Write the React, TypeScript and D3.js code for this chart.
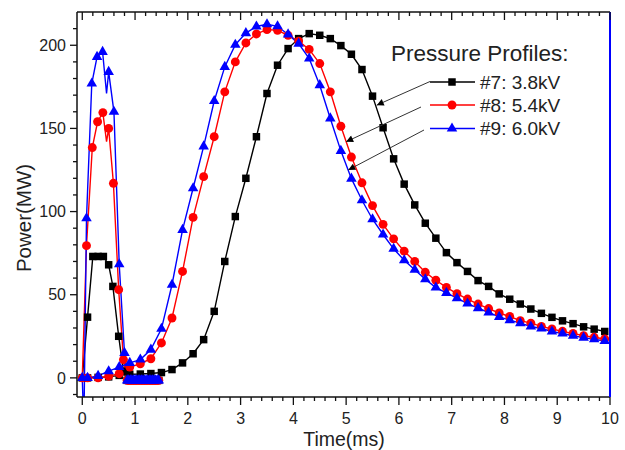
import React from "react";
import * as d3 from "d3";

const W = 625;
const H = 450;

const xTicks = [0, 1, 2, 3, 4, 5, 6, 7, 8, 9, 10];
const yTicks = [0, 50, 100, 150, 200];

const seriesNames = ["#7: 3.8kV", "#8: 5.4kV", "#9: 6.0kV"];
const seriesColors = ["#000000", "#ff0000", "#0000ff"];
const legendTitle = "Pressure Profiles:";

// main profile sample times (ms)
const mainX = [
  0.1, 0.3, 0.5, 0.7, 0.9, 1.1, 1.3, 1.5, 1.7, 1.9,
  2.1, 2.3, 2.5, 2.7, 2.9, 3.1, 3.3, 3.5, 3.7, 3.9,
  4.1, 4.3, 4.5, 4.7, 4.9, 5.1, 5.3, 5.5, 5.7, 5.9,
  6.1, 6.3, 6.5, 6.7, 6.9, 7.1, 7.3, 7.5, 7.7, 7.9,
  8.1, 8.3, 8.5, 8.7, 8.9, 9.1, 9.3, 9.5, 9.7, 9.9,
];
const main7 = [
  0, 0.3, 0.6, 1.5, 2.2, 2.3, 2.6, 3.2, 5, 9,
  14.5, 23, 40, 70, 97, 120, 145, 171, 188, 198,
  204, 207, 206, 204, 199.8, 194.6, 185.4, 169.4, 150.4, 131.7,
  116.5, 104, 93, 84, 75.3, 69.3, 64, 58.5, 55, 50.5,
  47.3, 44.4, 41.4, 38.8, 36.4, 34.3, 32.6, 30.7, 29.3, 27.9,
];
const main8 = [
  0, 0, 1, 2.5, 6.5, 8.5, 11.5, 21, 36, 64,
  96.5, 121, 145, 172, 190, 201.4, 206.8, 209.4, 209, 206,
  202.5, 197.5, 189, 172, 151.3, 132.8, 117.3, 103.6, 92.3, 83.6,
  76.2, 70, 63.5, 58.7, 54.4, 50.6, 47.4, 44.4, 41.7, 39,
  36.9, 34.4, 32.9, 31, 29.4, 28, 26.7, 25.4, 24.4, 23.4,
];
const main9 = [
  0, 1.2, 4, 6.5, 9, 11, 17, 29.5, 56, 89,
  114, 139.2, 166.5, 187, 200.3, 207.3, 211.3, 212.6, 211.4, 206.5,
  201, 192, 176, 156, 136.5, 119.8, 106.8, 95.4, 86.2, 77.6,
  70.7, 65, 59.3, 54.3, 51.1, 47.9, 44.7, 41.9, 39.3, 36.7,
  34.7, 32.9, 30.9, 29.7, 27.9, 26.7, 25.3, 24.2, 23.2, 22.2,
];

// early spikes [time, power]
const spike7 = [
  [0, 0], [0.1, 36.5], [0.2, 73], [0.3, 73], [0.4, 73],
  [0.5, 68], [0.58, 55], [0.69, 25], [0.78, 4],
];
const spike8 = [
  [0, 0], [0.08, 79.5], [0.19, 138.5], [0.29, 154], [0.39, 159.5],
  [0.5, 150], [0.59, 117], [0.69, 53], [0.78, 11],
];
const spike9 = [
  [0, 0], [0.08, 96], [0.18, 177], [0.28, 193], [0.385, 196],
  [0.5, 184], [0.6, 160], [0.7, 68.3], [0.8, 15],
];
// line-only glitches (no marker)
const glitch7: number[][] = [];
const glitch8 = [[0.46, 142]];
const glitch9 = [[0.03, -30], [0.46, 171]];
// dense flat tail after the spike
const tailX = [
  0.85, 0.88, 0.91, 0.94, 0.97, 1.0, 1.03, 1.06, 1.09, 1.12, 1.15,
  1.18, 1.21, 1.24, 1.27, 1.3, 1.33, 1.36, 1.39, 1.42, 1.45,
];
const tailY = [
  -1.5, -1.5, -1.5, -1.5, -1.5, -1.5, -1.5, -1.5, -1.5, -1.5, -1.5,
  -1.5, -1.5, -1.5, -1.5, -1.5, -1.5, -1.5, -1.5, -1.5, -1.5,
];

const mains = [main7, main8, main9];
const spikes = [spike7, spike8, spike9];
const glitches = [glitch7, glitch8, glitch9];

// arrow tips, in data units
const arrowTargets = [
  [5.58, 164],
  [5.0, 142],
  [5.04, 125],
];

const FONT = "'Liberation Sans', Arial, Helvetica, sans-serif";

const L = 77, R = 610, T = 12, B = 397;

const x = d3.scaleLinear().domain([-0.1, 10]).range([L, R]);
const y = d3.scaleLinear().domain([-11.5, 220]).range([B, T]);

const lineGen = d3
  .line<number[]>()
  .x((d) => x(d[0]))
  .y((d) => y(d[1]));

const symbols = [
  d3.symbol(d3.symbolSquare, 56)(),
  d3.symbol(d3.symbolCircle, 62)(),
  d3.symbol(d3.symbolTriangle, 48)(),
];

function Marker({ i, cx, cy }: { i: number; cx: number; cy: number }) {
  return (
    <path
      d={symbols[i] || ""}
      transform={`translate(${cx},${cy})`}
      fill={seriesColors[i]}
      stroke="none"
    />
  );
}

export default function App() {
  const xMinor = d3.range(0, 10.001, 0.2).filter((v) => Math.abs(v - Math.round(v)) > 1e-6);
  const yMinor = d3.range(-10, 211, 10).filter((v) => v % 50 !== 0);

  const legendX0 = 430;
  const legendX1 = 475;
  const legendRowY = [82, 105, 128.5];
  const arrowStarts = [
    [430, 81.5],
    [421, 107],
    [424, 130],
  ];

  return (
    <svg width={W} height={H} style={{ display: "block", position: "absolute", left: 0, top: 0 }} fontFamily={FONT}>
      <defs>
        <clipPath id="plot">
          <rect x={L} y={T} width={R - L} height={B - T} />
        </clipPath>
        <marker id="ah" viewBox="0 0 10 10" refX="10" refY="5" markerWidth="9" markerHeight="7" markerUnits="userSpaceOnUse" orient="auto">
          <path d="M0,0 L10,5 L0,10 z" fill="#000" />
        </marker>
      </defs>
      <rect x={0} y={0} width={W} height={H} fill="#fff" />

      <g clipPath="url(#plot)">
        {[0, 1, 2].map((i) => {
          const spikePts = spikes[i].concat(glitches[i]).concat(tailX.map((tx, k) => [tx, tailY[k]]));
          spikePts.sort((a, b) => a[0] - b[0]);
          const mainPts = mainX.map((mx, k) => [mx, mains[i][k]]);
          return (
            <g key={i}>
              <path d={lineGen(spikePts) || ""} fill="none" stroke={seriesColors[i]} strokeWidth={1.4} />
              <path d={lineGen([[0, 0]].concat(mainPts)) || ""} fill="none" stroke={seriesColors[i]} strokeWidth={1.4} />
            </g>
          );
        })}
        {[0, 1, 2].map((i) => (
          <g key={"m" + i}>
            {spikes[i].map((d, k) => (
              <Marker key={"s" + k} i={i} cx={x(d[0])} cy={y(d[1])} />
            ))}
            {tailX.map((tx, k) => (
              <Marker key={"t" + k} i={i} cx={x(tx)} cy={y(tailY[k])} />
            ))}
            {mainX.map((mx, k) => (
              <Marker key={"p" + k} i={i} cx={x(mx)} cy={y(mains[i][k])} />
            ))}
          </g>
        ))}
      </g>

      {/* axes */}
      <g stroke="#111" strokeWidth={1.5} fill="none">
        <line x1={L} y1={T} x2={L} y2={B} />
        <line x1={L} y1={B} x2={R} y2={B} />
        <line x1={L} y1={T} x2={R} y2={T} />
      </g>
      <line x1={R} y1={T} x2={R} y2={B} stroke="#0000ff" strokeWidth={2} />

      <g stroke="#111" strokeWidth={1.3}>
        {xTicks.map((t) => (
          <g key={"xt" + t}>
            <line x1={x(t)} x2={x(t)} y1={B} y2={B + 8} />
            <line x1={x(t)} x2={x(t)} y1={T} y2={T + 8} />
          </g>
        ))}
        {xMinor.map((t, k) => (
          <g key={"xm" + k}>
            <line x1={x(t)} x2={x(t)} y1={B} y2={B + 4} />
            <line x1={x(t)} x2={x(t)} y1={T} y2={T + 4} />
          </g>
        ))}
        {yTicks.map((t) => (
          <line key={"yt" + t} x1={L - 7} x2={L} y1={y(t)} y2={y(t)} />
        ))}
        {yMinor.map((t) => (
          <line key={"ym" + t} x1={L - 4} x2={L} y1={y(t)} y2={y(t)} />
        ))}
      </g>

      <g fontSize={16} fill="#222">
        {xTicks.map((t) => (
          <text key={"xl" + t} x={x(t)} y={423.5} textAnchor="middle">
            {t}
          </text>
        ))}
        {yTicks.map((t) => (
          <text key={"yl" + t} x={66} y={y(t) + 5.7} textAnchor="end">
            {t}
          </text>
        ))}
      </g>

      <text x={344} y={446} fontSize={19.5} textAnchor="middle" fill="#222">
        Time(ms)
      </text>
      <text transform="translate(31,218) rotate(-90)" fontSize={20.5} textAnchor="middle" fill="#222">
        Power(MW)
      </text>

      {/* legend */}
      <text x={391} y={60.5} fontSize={22.5} fill="#222">
        {legendTitle}
      </text>
      {seriesNames.map((name, i) => (
        <g key={"lg" + i}>
          <line x1={legendX0} x2={legendX1} y1={legendRowY[i]} y2={legendRowY[i]} stroke={seriesColors[i]} strokeWidth={1.4} />
          <Marker i={i} cx={(legendX0 + legendX1) / 2 - 0.5} cy={legendRowY[i]} />
          <text x={480} y={legendRowY[i] + 6.5} fontSize={19} fill="#222">
            {name}
          </text>
        </g>
      ))}

      {/* arrows */}
      {arrowTargets.map((t, i) => (
        <line
          key={"ar" + i}
          x1={arrowStarts[i][0]}
          y1={arrowStarts[i][1]}
          x2={x(t[0])}
          y2={y(t[1])}
          stroke="#333"
          strokeWidth={1}
          markerEnd="url(#ah)"
        />
      ))}
    </svg>
  );
}
